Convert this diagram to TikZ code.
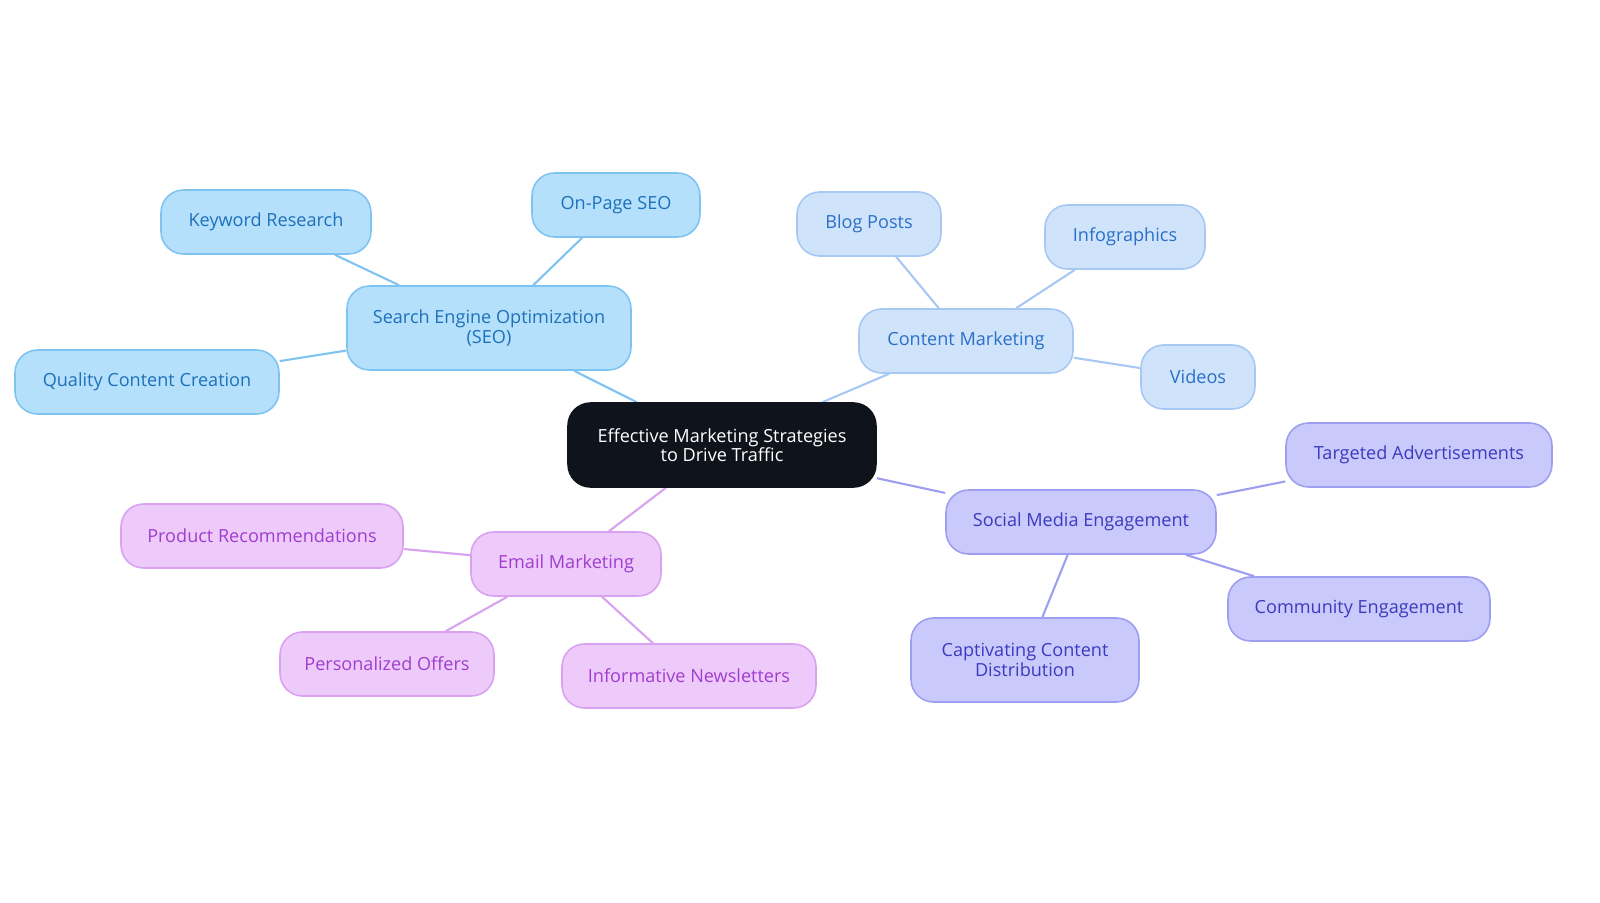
\documentclass[tikz,border=0pt]{standalone}
\usepackage{fontspec}
\setmainfont{Open Sans}
\usetikzlibrary{backgrounds}
\definecolor{cfill}{HTML}{0F141C}
\definecolor{bfill}{HTML}{B5E0FC}\definecolor{bdraw}{HTML}{7FC4F0}\definecolor{btext}{HTML}{1E70B8}
\definecolor{lfill}{HTML}{CFE3FB}\definecolor{ldraw}{HTML}{A6C8F2}\definecolor{ltext}{HTML}{2A6FC8}
\definecolor{vfill}{HTML}{C9C9FB}\definecolor{vdraw}{HTML}{9E9EF0}\definecolor{vtext}{HTML}{3B3BBE}
\definecolor{pfill}{HTML}{EDCAFA}\definecolor{pdraw}{HTML}{D8A2F0}\definecolor{ptext}{HTML}{A03DCF}
\begin{document}
\begin{tikzpicture}[x=0.02cm,y=-0.02cm,
 box/.style={rounded corners=0.45cm,line width=0.9pt,minimum height=1.28cm,align=center,inner sep=0pt,font=\fontsize{10.3}{11}\selectfont},
 B/.style={box,fill=bfill,draw=bdraw,text=btext},
 L/.style={box,fill=lfill,draw=ldraw,text=ltext},
 V/.style={box,fill=vfill,draw=vdraw,text=vtext},
 P/.style={box,fill=pfill,draw=pdraw,text=ptext},
 e/.style={line width=1.2pt}]
\useasboundingbox (0,0) rectangle (1600,903);
\node[box,fill=cfill,draw=cfill,text=white,minimum width=6.16cm,minimum height=1.68cm] (c) at (722,445) {Effective Marketing Strategies\\to Drive Traffic};
\node[B,minimum width=5.68cm,minimum height=1.68cm] (seo) at (489,328) {Search Engine Optimization\\(SEO)};
\node[B,minimum width=4.2cm] (kr) at (266,222) {Keyword Research};
\node[B,minimum width=3.36cm] (op) at (616,205) {On-Page SEO};
\node[B,minimum width=5.28cm] (qc) at (147,382) {Quality Content Creation};
\node[L,minimum width=4.28cm] (cm) at (966,341) {Content Marketing};
\node[L,minimum width=2.88cm] (bp) at (869,224) {Blog Posts};
\node[L,minimum width=3.2cm] (ig) at (1125,237) {Infographics};
\node[L,minimum width=2.28cm] (vd) at (1198,377) {Videos};
\node[V,minimum width=5.4cm] (sm) at (1081,522) {Social Media Engagement};
\node[V,minimum width=5.32cm] (ta) at (1419,455) {Targeted Advertisements};
\node[V,minimum width=5.24cm] (ce) at (1359,609) {Community Engagement};
\node[V,minimum width=4.56cm,minimum height=1.68cm] (cc) at (1025,660) {Captivating Content\\Distribution};
\node[P,minimum width=3.8cm] (em) at (566,564) {Email Marketing};
\node[P,minimum width=5.64cm] (pr) at (262,536) {Product Recommendations};
\node[P,minimum width=4.28cm] (po) at (387,664) {Personalized Offers};
\node[P,minimum width=5.08cm] (in) at (689,676) {Informative Newsletters};
\begin{scope}[on background layer]
\draw[e,bdraw] (c)--(seo) (seo)--(kr) (seo)--(op) (seo)--(qc);
\draw[e,ldraw] (c)--(cm) (cm)--(bp) (cm)--(ig) (cm)--(vd);
\draw[e,vdraw] (c)--(sm) (sm)--(ta) (sm)--(ce) (sm)--(cc);
\draw[e,pdraw] (c)--(em) (em)--(pr) (em)--(po) (em)--(in);
\end{scope}
\end{tikzpicture}
\end{document}
